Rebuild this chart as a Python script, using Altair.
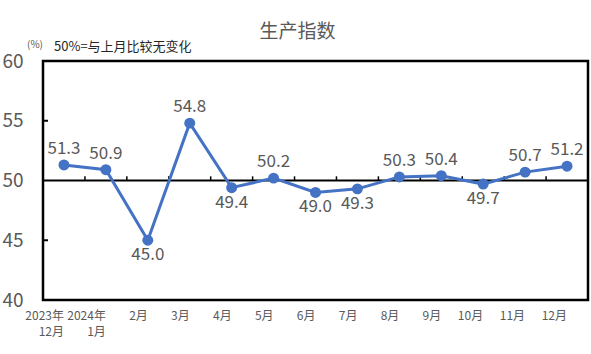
import altair as alt
import pandas as pd

months = ["2023年|12月", "2024年|1月", "2月", "3月", "4月", "5月", "6月",
          "7月", "8月", "9月", "10月", "11月", "12月"]
values = [51.3, 50.9, 45.0, 54.8, 49.4, 50.2, 49.0, 49.3, 50.3, 50.4, 49.7, 50.7, 51.2]
label_pos = ["above", "above", "below", "above", "below", "above", "below",
             "below", "above", "above", "below", "above", "above"]
y_ticks = [40, 45, 50, 55, 60]
inner_ticks = [45, 55]

df = pd.DataFrame({"month": months, "value": values, "pos": label_pos,
                   "text": [f"{v:.1f}" for v in values]})
df_bounds = pd.DataFrame({"month": months[1:]})
df_yt = pd.DataFrame({"value": inner_ticks})

FONT = "Noto Sans CJK SC"
GREY = "#595959"
BLUE = "#4472C4"

xscale = alt.Scale(domain=months, paddingInner=0, paddingOuter=0)
yscale = alt.Scale(domain=[40, 60], zero=False, nice=False)

xenc = alt.X("month:N", sort=months, scale=xscale,
             axis=alt.Axis(title=None, labelExpr="split(datum.label, '|')",
                           labelAngle=0, ticks=False, domain=False, labelFontSize=12,
                           labelColor=GREY, labelFont=FONT, labelPadding=10,
                           labelLineHeight=16, labelBaseline="top"))
yenc = alt.Y("value:Q", scale=yscale,
             axis=alt.Axis(title=None, values=y_ticks, grid=False, ticks=False,
                           domain=False, labelFontSize=19, labelColor=GREY,
                           labelFont=FONT, labelPadding=20))
xplain = alt.X("month:N", sort=months, scale=xscale)
yplain = alt.Y("value:Q", scale=yscale)

base = alt.Chart(df)

line = base.mark_line(color=BLUE, strokeWidth=3).encode(x=xenc, y=yenc)
points = base.mark_point(filled=True, color=BLUE, size=120, opacity=1).encode(
    x=xplain, y=yplain)

above = base.transform_filter("datum.pos == 'above'").mark_text(
    baseline="bottom", dy=-7, fontSize=17, color=GREY, font=FONT).encode(
    x=xplain, y=yplain, text="text:N")
below = base.transform_filter("datum.pos == 'below'").mark_text(
    baseline="top", dy=7, fontSize=17, color=GREY, font=FONT).encode(
    x=xplain, y=yplain, text="text:N")

ref50 = alt.Chart(pd.DataFrame({"value": [50]})).mark_rule(color="black", strokeWidth=2).encode(
    y=yplain)

bticks = alt.Chart(df_bounds).mark_rule(color="black", strokeWidth=1.5).encode(
    x=alt.X("month:N", sort=months, scale=xscale, bandPosition=0),
    y=alt.Y(datum=50, scale=yscale), y2=alt.datum(50.35))

yticks = alt.Chart(df_yt).mark_rule(color="black", strokeWidth=2).encode(
    y=yplain, x=alt.value(0), x2=alt.value(5))

pct = alt.Chart(pd.DataFrame({"t": ["(%)"]})).mark_text(
    fontSize=10, color=GREY, font=FONT, align="left", baseline="middle").encode(
    text="t:N", x=alt.value(-16), y=alt.value(-16))
note = alt.Chart(pd.DataFrame({"t": ["50%=与上月比较无变化"]})).mark_text(
    fontSize=13, color="#262626", font=FONT, align="left", baseline="middle").encode(
    text="t:N", x=alt.value(11), y=alt.value(-14))

chart = alt.layer(ref50, bticks, yticks, line, points, above, below, pct, note).properties(
    width=545, height=239,
    title=alt.TitleParams("生产指数", fontSize=19, color=GREY, font=FONT,
                          fontWeight="normal", anchor="middle", frame="group",
                          dx=-18, offset=-2),
    autosize=alt.AutoSizeParams(type="none"),
    padding={"left": 43, "top": 61, "right": 3, "bottom": 54},
).configure_view(stroke="black", strokeWidth=2.5)

chart.save("out.html", embed_options={"renderer": "svg", "actions": False})
